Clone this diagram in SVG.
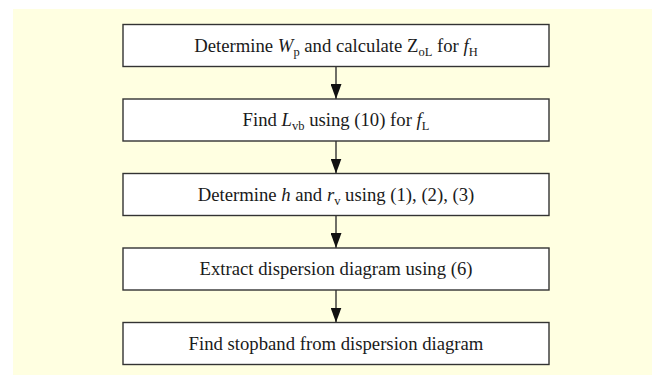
<svg xmlns="http://www.w3.org/2000/svg" width="652" height="378" viewBox="0 0 652 378">
<defs>
<style>
.box{fill:#ffffff;stroke:#333333;stroke-width:1.4}
.lbl{font-family:"Liberation Serif","Times New Roman",serif;font-size:18.7px;fill:#1a1a1a;text-anchor:middle}
.sub{font-size:12.5px}
.it{font-style:italic}
.conn{stroke:#333333;stroke-width:1.4;fill:none}
</style>
<marker id="ah" viewBox="0 0 15 11" refX="15" refY="5.5" markerWidth="15" markerHeight="11" markerUnits="userSpaceOnUse" orient="auto">
<path d="M0,0 L15,5.5 L0,11 Z" fill="#111111"/>
</marker>
</defs>
<rect x="13" y="9" width="639" height="366" fill="#ffffe1"/>
<g id="connectors">
<line class="conn" x1="336" y1="66.5" x2="336" y2="99" marker-end="url(#ah)"/>
<line class="conn" x1="336" y1="141" x2="336" y2="173.5" marker-end="url(#ah)"/>
<line class="conn" x1="336" y1="215.5" x2="336" y2="248" marker-end="url(#ah)"/>
<line class="conn" x1="336" y1="290" x2="336" y2="322.5" marker-end="url(#ah)"/>
</g>
<g id="n1">
<rect class="box" x="123" y="24.5" width="426" height="42"/>
<text class="lbl" x="336" y="51.5">Determine <tspan class="it">W</tspan><tspan class="sub" dy="4">p</tspan><tspan dy="-4"> and calculate Z</tspan><tspan class="sub" dy="4">oL</tspan><tspan dy="-4"> for </tspan><tspan class="it">f</tspan><tspan class="sub" dy="4">H</tspan></text>
</g>
<g id="n2">
<rect class="box" x="123" y="99" width="426" height="42"/>
<text class="lbl" x="336" y="126">Find <tspan class="it">L</tspan><tspan class="sub" dy="4">vb</tspan><tspan dy="-4"> using (10) for </tspan><tspan class="it">f</tspan><tspan class="sub" dy="4">L</tspan></text>
</g>
<g id="n3">
<rect class="box" x="123" y="173.5" width="426" height="42"/>
<text class="lbl" x="336" y="200.5">Determine <tspan class="it">h</tspan> and <tspan class="it">r</tspan><tspan class="sub" dy="4">v</tspan><tspan dy="-4"> using (1), (2), (3)</tspan></text>
</g>
<g id="n4">
<rect class="box" x="123" y="248" width="426" height="42"/>
<text class="lbl" x="336" y="275">Extract dispersion diagram using (6)</text>
</g>
<g id="n5">
<rect class="box" x="123" y="322.5" width="426" height="42"/>
<text class="lbl" x="336" y="349.5">Find stopband from dispersion diagram</text>
</g>
</svg>
